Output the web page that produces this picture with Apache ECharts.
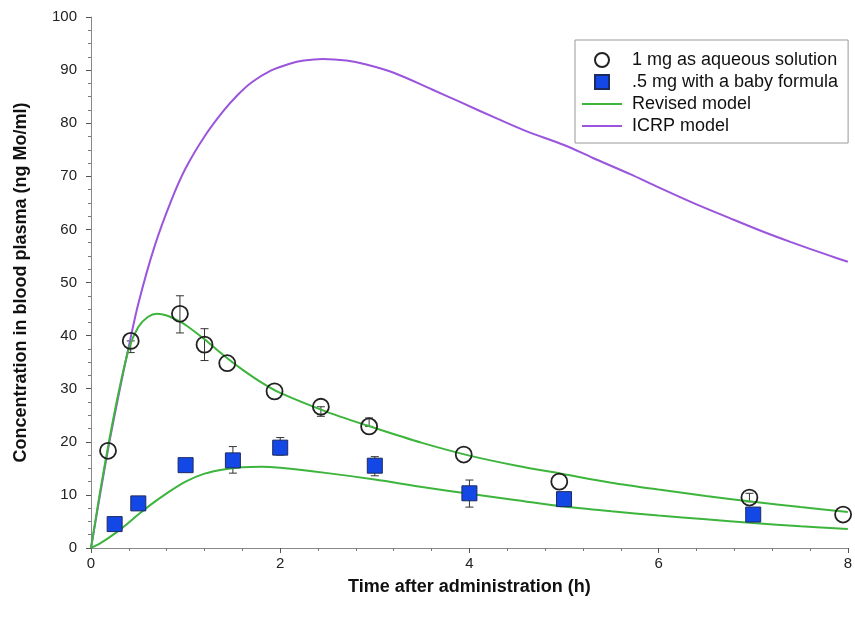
<!DOCTYPE html>
<html>
<head>
<meta charset="utf-8">
<script src="https://cdn.jsdelivr.net/npm/echarts@6/dist/echarts.min.js"></script>
<style>html,body{margin:0;padding:0;background:#fff}#c{width:855px;height:618px}</style>
</head>
<body>
<div id="c"></div>
<script>
// Measured data: 1 mg as aqueous solution (circles)
const aqueousX = [0.18, 0.42, 0.94, 1.2, 1.44, 1.94, 2.43, 2.94, 3.94, 4.95, 6.96, 7.95];
const aqueousY = [18.3, 39.0, 44.1, 38.3, 34.8, 29.5, 26.6, 22.9, 17.6, 12.5, 9.5, 6.3];
const aqueousErrLo = [0, 2.2, 3.6, 3.0, 0, 0, 1.8, 0, 0, 0, 0.8, 0];
const aqueousErrHi = [0, 0, 3.4, 3.0, 0, 0, 0, 1.6, 0, 0, 0.8, 0];

// Measured data: .5 mg with a baby formula (squares)
const formulaX = [0.25, 0.5, 1.0, 1.5, 2.0, 3.0, 4.0, 5.0, 7.0];
const formulaY = [4.5, 8.4, 15.6, 16.5, 18.9, 15.5, 10.3, 9.2, 6.3];
const formulaErrLo = [0.8, 0, 1.2, 2.4, 1.4, 1.9, 2.6, 1.4, 0];
const formulaErrHi = [0.8, 0, 0.8, 2.6, 1.9, 1.7, 2.5, 0, 0];

// Revised model curve (aqueous)
const revAqX = [0, 0.05, 0.1, 0.2, 0.3, 0.4, 0.5, 0.6, 0.7, 0.8, 0.9, 1.0, 1.2, 1.4, 1.6, 1.8, 2.0, 2.5, 3.0, 3.5, 4.0, 4.5, 5.0, 5.5, 6.0, 6.5, 7.0, 7.5, 8.0];
const revAqY = [0, 5.5, 11, 21, 30, 37.5, 41.6, 43.5, 44.1, 43.8, 43.0, 42.0, 39.3, 36.3, 33.6, 31.2, 29.2, 25.6, 22.6, 19.8, 17.4, 15.5, 13.9, 12.3, 11.0, 9.8, 8.7, 7.7, 6.8];

// Revised model curve (baby formula)
const revFmX = [0, 0.1, 0.25, 0.4, 0.5, 0.65, 0.8, 1.0, 1.2, 1.4, 1.6, 1.8, 2.0, 2.5, 3.0, 3.5, 4.0, 4.5, 5.0, 5.5, 6.0, 6.5, 7.0, 7.5, 8.0];
const revFmY = [0, 0.9, 2.7, 4.8, 6.3, 8.4, 10.3, 12.5, 14.0, 14.8, 15.2, 15.3, 15.1, 14.1, 12.9, 11.5, 10.2, 9.0, 7.8, 6.9, 6.1, 5.4, 4.7, 4.1, 3.6];

// ICRP model curve
const icrpX = [0, 0.1, 0.2, 0.3, 0.4, 0.5, 0.67, 0.85, 1.0, 1.2, 1.4, 1.55, 1.7, 1.9, 2.1, 2.25, 2.45, 2.7, 2.9, 3.2, 3.6, 3.9, 4.3, 4.6, 5.0, 5.3, 5.7, 6.0, 6.4, 6.7, 7.1, 7.4, 7.8, 8.0];
const icrpY = [0, 10.5, 20.5, 29.5, 38, 46, 56.7, 65.5, 71.5, 77.5, 82.3, 85.3, 87.7, 89.9, 91.2, 91.8, 92.1, 91.8, 91.1, 89.5, 86.4, 84.0, 80.8, 78.5, 75.9, 73.5, 70.4, 67.9, 64.7, 62.5, 59.6, 57.6, 55.1, 53.9];

const xTicks = [0, 2, 4, 6, 8];
const yTicks = [0, 10, 20, 30, 40, 50, 60, 70, 80, 90, 100];

const seriesNames = ['1 mg as aqueous solution', '.5 mg with a baby formula', 'Revised model', 'ICRP model'];

function zip(xs, ys) { return xs.map((x, i) => [x, ys[i]]); }
function errData(xs, ys, lo, hi) {
  const out = [];
  xs.forEach((x, i) => { if (lo[i] > 0 || hi[i] > 0) out.push([x, ys[i] - lo[i], ys[i] + hi[i]]); });
  return out;
}
function errRender(params, api) {
  const x = api.value(0), lo = api.value(1), hi = api.value(2);
  const p1 = api.coord([x, hi]), p2 = api.coord([x, lo]);
  const w = 4;
  const st = { stroke: '#333', lineWidth: 1 };
  return { type: 'group', children: [
    { type: 'line', shape: { x1: p1[0], y1: p1[1], x2: p2[0], y2: p2[1] }, style: st },
    { type: 'line', shape: { x1: p1[0] - w, y1: p1[1], x2: p1[0] + w, y2: p1[1] }, style: st },
    { type: 'line', shape: { x1: p2[0] - w, y1: p2[1], x2: p2[0] + w, y2: p2[1] }, style: st }
  ]};
}

const FONT = '"Liberation Sans", Arial, sans-serif';
const green = '#3db53d';
const purple = '#9a55dc';
const LINE_ICON = 'path://M0,0H40V2H0Z';
const SQUARE_ICON = 'path://M0,0H10V10H0Z';

const chart = echarts.init(document.getElementById('c'), null, { renderer: 'canvas' });
chart.setOption({
  animation: false,
  backgroundColor: '#fff',
  grid: { left: 91, right: 4, top: 17, bottom: 70, containLabel: false },
  legend: {
    data: [
      { name: seriesNames[0], icon: 'circle' },
      { name: seriesNames[1], icon: SQUARE_ICON },
      { name: seriesNames[2], icon: LINE_ICON },
      { name: seriesNames[3], icon: LINE_ICON }
    ],
    symbolKeepAspect: true,
    orient: 'vertical',
    left: 575, top: 40,
    padding: [11, 10, 8, 7],
    itemGap: 4,
    itemWidth: 40, itemHeight: 14,
    borderColor: '#999', borderWidth: 1,
    textStyle: { fontFamily: FONT, fontSize: 18, color: '#111', padding: [0, 0, 0, 5] }
  },
  xAxis: {
    type: 'value', min: 0, max: 8, interval: 2,
    name: 'Time after administration (h)',
    nameLocation: 'middle', nameGap: 30,
    nameTextStyle: { fontFamily: FONT, fontSize: 18, fontWeight: 'bold', color: '#111' },
    axisLine: { lineStyle: { color: '#888', width: 1 } },
    axisTick: { show: true, length: 5, lineStyle: { color: '#555' } },
    minorTick: { show: true, splitNumber: 5, length: 3, lineStyle: { color: '#777' } },
    splitLine: { show: false },
    axisLabel: { fontFamily: FONT, fontSize: 15, color: '#222', margin: 8,
      formatter: v => xTicks.includes(v) ? String(v) : '' }
  },
  yAxis: {
    type: 'value', min: 0, max: 100, interval: 10,
    name: 'Concentration in blood plasma (ng Mo/ml)',
    nameLocation: 'middle', nameGap: 61, nameRotate: 90,
    nameTextStyle: { fontFamily: FONT, fontSize: 18, fontWeight: 'bold', color: '#111' },
    axisLine: { show: true, lineStyle: { color: '#888', width: 1 } },
    axisTick: { show: true, length: 5, lineStyle: { color: '#555' } },
    minorTick: { show: true, splitNumber: 4, length: 3, lineStyle: { color: '#777' } },
    splitLine: { show: false },
    axisLabel: { fontFamily: FONT, fontSize: 15, color: '#222', margin: 14,
      formatter: v => yTicks.includes(v) ? String(v) : '' }
  },
  series: [
    { name: 'ICRP model', type: 'line', data: zip(icrpX, icrpY), symbol: 'none', smooth: 0.3,
      lineStyle: { color: purple, width: 2 }, itemStyle: { color: purple }, z: 2 },
    { name: 'Revised model', type: 'line', data: zip(revAqX, revAqY), symbol: 'none', smooth: 0.3,
      lineStyle: { color: green, width: 2 }, itemStyle: { color: green }, z: 3 },
    { name: 'Revised model', type: 'line', data: zip(revFmX, revFmY), symbol: 'none', smooth: 0.3,
      lineStyle: { color: green, width: 2 }, itemStyle: { color: green }, z: 3 },
    { name: 'errA', type: 'custom', renderItem: errRender, data: errData(aqueousX, aqueousY, aqueousErrLo, aqueousErrHi), z: 1, silent: true },
    { name: 'errF', type: 'custom', renderItem: errRender, data: errData(formulaX, formulaY, formulaErrLo, formulaErrHi), z: 1, silent: true },
    { name: '1 mg as aqueous solution', type: 'scatter', data: zip(aqueousX, aqueousY), symbol: 'circle', symbolSize: 16,
      itemStyle: { color: 'rgba(255,255,255,0)', borderColor: '#222', borderWidth: 1.8, opacity: 1 }, z: 10 },
    { name: '.5 mg with a baby formula', type: 'scatter', data: zip(formulaX, formulaY), symbol: 'rect', symbolSize: 15,
      itemStyle: { color: '#1448e6', borderColor: '#1c2a60', borderWidth: 1, opacity: 1 }, z: 10 }
  ]
});
</script>
</body>
</html>
